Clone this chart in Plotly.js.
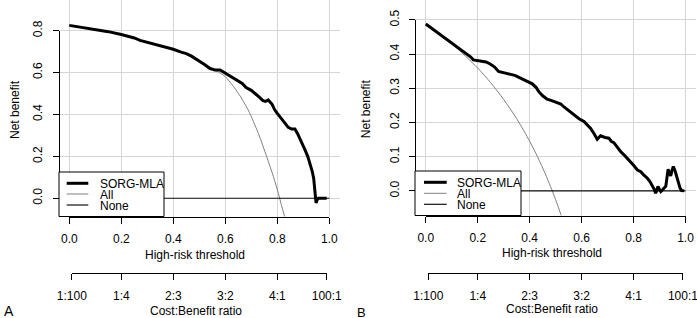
<!DOCTYPE html>
<html>
<head>
<meta charset="utf-8">
<script src="https://cdn.plot.ly/plotly-3.0.1.min.js"></script>
<style>html,body{margin:0;padding:0;background:#fff;}#chart{width:697px;height:318px;}</style>
</head>
<body>
<div id="chart"></div>
<script>
// ---------- data ----------
var thresholdTicks = [0, 0.2, 0.4, 0.6, 0.8, 1.0];
var thresholdTickText = ['0.0', '0.2', '0.4', '0.6', '0.8', '1.0'];
var costTicks = [1/101, 0.2, 0.4, 0.6, 0.8, 100/101];
var costTickText = ['1:100', '1:4', '2:3', '3:2', '4:1', '100:1'];
var yTicksA = [0, 0.2, 0.4, 0.6, 0.8];
var yTickTextA = ['0.0', '0.2', '0.4', '0.6', '0.8'];
var yTicksB = [0, 0.1, 0.2, 0.3, 0.4, 0.5];
var yTickTextB = ['0.0', '0.1', '0.2', '0.3', '0.4', '0.5'];
var legendNames = ['SORG-MLA', 'All', 'None'];

// Panel A
var ptA = [0, 0.05, 0.1, 0.15, 0.2, 0.25, 0.272, 0.3, 0.33, 0.36, 0.387, 0.4, 0.43, 0.45, 0.47, 0.5, 0.52, 0.54, 0.56, 0.58, 0.6,
           0.62, 0.645, 0.665, 0.68, 0.7, 0.72, 0.745, 0.755, 0.765, 0.78, 0.79, 0.8, 0.817, 0.83, 0.842, 0.855, 0.868,
           0.878, 0.887, 0.897, 0.907, 0.917, 0.926, 0.934, 0.94, 0.944, 0.947, 0.949, 0.953, 0.958, 0.99];
var sorgA = [0.825, 0.816, 0.806, 0.795, 0.781, 0.765, 0.753, 0.744, 0.733, 0.724, 0.717, 0.711, 0.697, 0.690, 0.678, 0.655,
             0.638, 0.620, 0.612, 0.612, 0.597, 0.585, 0.567, 0.548, 0.528, 0.515, 0.494, 0.466, 0.462, 0.469, 0.448, 0.422,
             0.405, 0.376, 0.355, 0.338, 0.330, 0.330, 0.308, 0.286, 0.262, 0.230, 0.200, 0.167, 0.130, 0.095, 0.050, 0.010,
             -0.022, -0.008, 0.0, 0.0];
var ptAllA = [0, 0.1, 0.2, 0.3, 0.4, 0.45, 0.5, 0.522, 0.56, 0.6, 0.65, 0.688, 0.727, 0.759, 0.785, 0.804, 0.814, 0.83];
var allA = [0.825, 0.805, 0.780, 0.744, 0.709, 0.687, 0.653, 0.636, 0.612, 0.580, 0.501, 0.421, 0.310, 0.199, 0.103, 0.024,
            -0.024, -0.095];
var ptNone = [0, 1];
var noneVals = [0, 0];

// Panel B
var ptB = [0, 0.036, 0.073, 0.1, 0.125, 0.145, 0.158, 0.172, 0.183, 0.2, 0.216, 0.232, 0.248, 0.265, 0.28, 0.3, 0.319, 0.335,
           0.345, 0.371, 0.39, 0.41, 0.425, 0.435, 0.45, 0.467, 0.485, 0.505, 0.52, 0.531, 0.55, 0.57, 0.59, 0.609, 0.622,
           0.634, 0.648, 0.66, 0.673, 0.69, 0.705, 0.714, 0.724, 0.737, 0.75, 0.766, 0.782, 0.8, 0.815, 0.828, 0.84, 0.853,
           0.863, 0.873, 0.88, 0.885, 0.894, 0.9, 0.905, 0.915, 0.924, 0.933, 0.938, 0.943, 0.948, 0.953, 0.96, 0.966,
           0.972, 0.979, 0.985, 0.995];
var sorgB = [0.488, 0.468, 0.446, 0.431, 0.417, 0.407, 0.398, 0.392, 0.383, 0.381, 0.381, 0.377, 0.371, 0.362, 0.349, 0.346,
             0.342, 0.339, 0.337, 0.327, 0.322, 0.313, 0.302, 0.290, 0.278, 0.268, 0.264, 0.259, 0.254, 0.246, 0.234, 0.222,
             0.211, 0.203, 0.193, 0.183, 0.167, 0.151, 0.161, 0.156, 0.154, 0.145, 0.141, 0.128, 0.115, 0.103, 0.091, 0.075,
             0.061, 0.056, 0.046, 0.037, 0.027, 0.015, 0.004, -0.007, 0.013, 0.004, -0.002, 0.006, 0.013, 0.063, 0.050,
             0.044, 0.060, 0.071, 0.058, 0.042, 0.022, 0.008, 0.001, 0.0];
var ptAllB = [0, 0.1, 0.2, 0.25, 0.3, 0.35, 0.4, 0.43, 0.46, 0.48, 0.5, 0.52, 0.54];
var allB = [0.488, 0.430, 0.359, 0.316, 0.267, 0.211, 0.145, 0.100, 0.050, 0.0135, -0.026, -0.069, -0.115];

// ---------- layout helpers ----------
var W = 697, H = 318;
function PX(px) { return px / W; }
function PY(py) { return 1 - py / H; }
var FONT = 'Liberation Sans, Arial, Helvetica, sans-serif';
var GRID = '#d6d6d6';
var XR = [-0.04, 1.04];

var panels = [
  {xd: [58.9, 339.7], yb: 216.5, yr: [-0.087, 0.946], yt: yTicksA, ytt: yTickTextA, cost: 273.3,
   legBox: [59, 164, 172, 216.5], legLine: [66.7, 88.3], legTextX: 99.3, legY: [183.3, 194, 205],
   xtitle: [195, 255.3], ctitle: [196, 310.7], ytitle: [15, 110], tag: ['A', 9, 311.2, 14]},
  {xd: [415.4, 695.9], yb: 215.5, yr: [-0.072, 0.558], yt: yTicksB, ytt: yTickTextB, cost: 273.3,
   legBox: [415, 521, 171, 215.5], legLine: [424, 446.7], legTextX: 456, legY: [182.3, 193.3, 204.3],
   xtitle: [551.5, 253.3], ctitle: [552, 309.3], ytitle: [365.7, 108.5], tag: ['B', 361, 312, 13]}
];

function dataToPx(p, v) { return p.xd[0] + (p.xd[1] - p.xd[0]) * (v - XR[0]) / (XR[1] - XR[0]); }
function dataToPy(p, v) { return p.yb - p.yb * (v - p.yr[0]) / (p.yr[1] - p.yr[0]); }

var layout = {
  width: W, height: H, margin: {l: 0, r: 0, t: 0, b: 0},
  paper_bgcolor: '#fff', plot_bgcolor: 'rgba(0,0,0,0)',
  showlegend: false, font: {family: FONT, size: 12, color: '#000'},
  shapes: [], annotations: []
};

var traces = [];
var seriesA = [[ptA, sorgA], [ptAllA, allA], [ptNone, noneVals]];
var seriesB = [[ptB, sorgB], [ptAllB, allB], [ptNone, noneVals]];
var styles = [
  {color: '#000', width: 3},
  {color: '#808080', width: 1},
  {color: '#111', width: 1.2}
];

panels.forEach(function (p, i) {
  var n = i + 1;
  var xk = n === 1 ? 'x' : 'x2', yk = n === 1 ? 'y' : 'y2';
  var xname = n === 1 ? 'xaxis' : 'xaxis2', yname = n === 1 ? 'yaxis' : 'yaxis2';
  var ser = i === 0 ? seriesA : seriesB;
  // draw "All" first so the model curve lies on top where they coincide
  [1, 2, 0].forEach(function (j) {
    var s = ser[j];
    traces.push({x: s[0], y: s[1], xaxis: xk, yaxis: yk, mode: 'lines', name: legendNames[j],
      line: {color: styles[j].color, width: styles[j].width, shape: j === 1 ? 'spline' : 'linear', smoothing: 0.8},
      hoverinfo: 'skip'});
  });
  // empty traces so that the tick-only axes are drawn
  var tx = 'x' + (2 + n), cx = 'x' + (4 + n), ty = 'y' + (2 + n);
  traces.push({x: [], y: [], xaxis: tx, yaxis: ty, mode: 'lines', hoverinfo: 'skip', showlegend: false});
  traces.push({x: [], y: [], xaxis: cx, yaxis: ty, mode: 'lines', hoverinfo: 'skip', showlegend: false});

  // grid axes
  layout[xname] = {domain: [PX(p.xd[0]), PX(p.xd[1])], range: XR, anchor: yk, showgrid: true, gridcolor: GRID,
    gridwidth: 1, tickvals: thresholdTicks, showticklabels: false, ticks: '', zeroline: false, showline: false};
  layout[yname] = {domain: [PY(p.yb), 1], range: p.yr, anchor: xk, showgrid: true, gridcolor: GRID, gridwidth: 1,
    tickvals: p.yt, showticklabels: false, ticks: '', zeroline: false, showline: false};
  // threshold tick axis
  var x0 = dataToPx(p, 0), x1 = dataToPx(p, 1);
  layout['xaxis' + (2 + n)] = {domain: [PX(x0), PX(x1)], range: [0, 1], anchor: 'free', position: PY(p.yb),
    showgrid: false, zeroline: false, showline: true, linecolor: '#000', linewidth: 1, ticks: 'outside', ticklen: 6,
    tickcolor: '#000', tickwidth: 1, tickvals: thresholdTicks, ticktext: thresholdTickText, ticklabelstandoff: 5,
    ticklabeloverflow: 'allow', tickfont: {family: FONT, size: 12, color: '#000'}};
  // cost:benefit axis
  var c0 = dataToPx(p, costTicks[0]), c1 = dataToPx(p, costTicks[costTicks.length - 1]);
  layout['xaxis' + (4 + n)] = {domain: [PX(c0), PX(c1)], range: [costTicks[0], costTicks[costTicks.length - 1]],
    anchor: 'free', position: PY(p.cost), showgrid: false, zeroline: false, showline: true, linecolor: '#000',
    linewidth: 1, ticks: 'outside', ticklen: 6, tickcolor: '#000', tickwidth: 1, tickvals: costTicks,
    ticktext: costTickText, ticklabelstandoff: 5, ticklabeloverflow: 'allow',
    tickfont: {family: FONT, size: 12, color: '#000'}};
  // y tick axis
  var yTop = p.yt[p.yt.length - 1];
  var py0 = dataToPy(p, 0), py1 = dataToPy(p, yTop);
  layout['yaxis' + (2 + n)] = {domain: [PY(py0), PY(py1)], range: [0, yTop], anchor: 'free', position: PX(p.xd[0]),
    side: 'left', showgrid: false, zeroline: false, showline: true, linecolor: '#000', linewidth: 1,
    ticks: 'outside', ticklen: 6, tickcolor: '#000', tickwidth: 1, tickvals: p.yt, ticktext: p.ytt, tickangle: -90,
    ticklabelstandoff: 6, ticklabeloverflow: 'allow', tickfont: {family: FONT, size: 12, color: '#000'}};

  // legend (drawn like the R legend box)
  var b = p.legBox;
  layout.shapes.push({type: 'rect', xref: 'paper', yref: 'paper', x0: PX(b[0]), x1: PX(b[1]), y0: PY(b[3]), y1: PY(b[2]),
    line: {color: '#000', width: 1}, fillcolor: '#fff', layer: 'above'});
  legendNames.forEach(function (nm, j) {
    layout.shapes.push({type: 'line', xref: 'paper', yref: 'paper', x0: PX(p.legLine[0]), x1: PX(p.legLine[1]),
      y0: PY(p.legY[j]), y1: PY(p.legY[j]), line: {color: styles[j].color, width: styles[j].width}, layer: 'above'});
    layout.annotations.push({text: nm, xref: 'paper', yref: 'paper', x: PX(p.legTextX), y: PY(p.legY[j]),
      xanchor: 'left', yanchor: 'middle', showarrow: false, height: 11, borderpad: 0, valign: 'middle',
      font: {family: FONT, size: 12, color: '#000'}});
  });

  // titles
  layout.annotations.push({text: 'High-risk threshold', xref: 'paper', yref: 'paper', x: PX(p.xtitle[0]),
    y: PY(p.xtitle[1]), xanchor: 'center', yanchor: 'middle', showarrow: false, font: {family: FONT, size: 12}});
  layout.annotations.push({text: 'Cost:Benefit ratio', xref: 'paper', yref: 'paper', x: PX(p.ctitle[0]),
    y: PY(p.ctitle[1]), xanchor: 'center', yanchor: 'middle', showarrow: false, font: {family: FONT, size: 12}});
  layout.annotations.push({text: 'Net benefit', xref: 'paper', yref: 'paper', x: PX(p.ytitle[0]),
    y: PY(p.ytitle[1]), xanchor: 'center', yanchor: 'middle', textangle: -90, showarrow: false,
    font: {family: FONT, size: 12}});
  layout.annotations.push({text: p.tag[0], xref: 'paper', yref: 'paper', x: PX(p.tag[1]), y: PY(p.tag[2]),
    xanchor: 'center', yanchor: 'middle', showarrow: false, height: 12, borderpad: 0, valign: 'middle',
    font: {family: FONT, size: p.tag[3]}});
});

Plotly.newPlot('chart', traces, layout, {staticPlot: true, displayModeBar: false});
</script>
</body>
</html>
